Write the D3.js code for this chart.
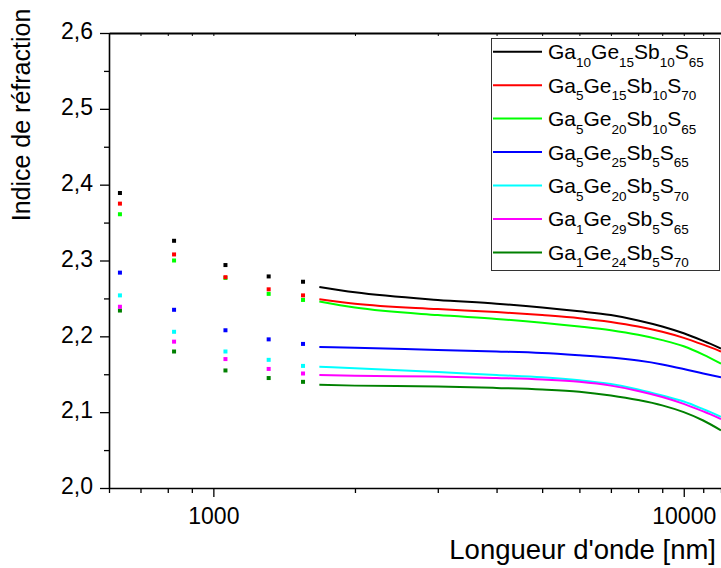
<!DOCTYPE html>
<html>
<head>
<meta charset="utf-8">
<script src="https://cdn.jsdelivr.net/npm/d3@7"></script>
<style>
  html, body { margin: 0; padding: 0; background: #fff; }
  svg { display: block; font-family: "Liberation Sans", Arial, sans-serif; }
</style>
</head>
<body>
<svg id="chart" width="721" height="568"></svg>
<script>
// ---------- data ----------
const seriesNames = [
  [["Ga","10"],["Ge","15"],["Sb","10"],["S","65"]],
  [["Ga","5"],["Ge","15"],["Sb","10"],["S","70"]],
  [["Ga","5"],["Ge","20"],["Sb","10"],["S","65"]],
  [["Ga","5"],["Ge","25"],["Sb","5"],["S","65"]],
  [["Ga","5"],["Ge","20"],["Sb","5"],["S","70"]],
  [["Ga","1"],["Ge","29"],["Sb","5"],["S","65"]],
  [["Ga","1"],["Ge","24"],["Sb","5"],["S","70"]]
];
const seriesColors = ["#000000","#ff0000","#00ff00","#0000ff","#00ffff","#ff00ff","#008000"];

// measured points (prism coupler wavelengths, nm)
const pointWavelengths = [633, 825, 1061, 1311, 1551];
const pointsBlack   = [2.389, 2.326, 2.294, 2.279, 2.272];
const pointsRed     = [2.375, 2.308, 2.278, 2.262, 2.254];
const pointsGreen   = [2.361, 2.300, 2.277, 2.256, 2.248];
const pointsBlue    = [2.284, 2.235, 2.208, 2.196, 2.190];
const pointsCyan    = [2.254, 2.206, 2.180, 2.169, 2.161];
const pointsMagenta = [2.239, 2.193, 2.170, 2.157, 2.151];
const pointsDkGreen = [2.234, 2.180, 2.155, 2.145, 2.140];

// fitted curves
const curveWavelengths = [1680, 2000, 3000, 4000, 5000, 6000, 7000, 8000, 9000, 10000, 11000, 12000];
const curveBlack   = [2.265, 2.258, 2.248, 2.243, 2.238, 2.233, 2.228, 2.221, 2.213, 2.204, 2.194, 2.184];
const curveRed     = [2.249, 2.243, 2.236, 2.232, 2.228, 2.224, 2.219, 2.213, 2.206, 2.198, 2.189, 2.180];
const curveGreen   = [2.246, 2.238, 2.228, 2.223, 2.218, 2.213, 2.208, 2.202, 2.195, 2.187, 2.176, 2.164];
const curveBlue    = [2.186, 2.185, 2.182, 2.180, 2.178, 2.175, 2.172, 2.168, 2.163, 2.157, 2.151, 2.146];
const curveCyan    = [2.160, 2.158, 2.153, 2.149, 2.146, 2.142, 2.137, 2.130, 2.122, 2.114, 2.104, 2.094];
const curveMagenta = [2.149, 2.148, 2.147, 2.145, 2.143, 2.140, 2.135, 2.128, 2.120, 2.111, 2.101, 2.091];
const curveDkGreen = [2.136, 2.135, 2.134, 2.132, 2.130, 2.127, 2.122, 2.116, 2.109, 2.100, 2.089, 2.076];

const yTicks = [2.0, 2.1, 2.2, 2.3, 2.4, 2.5, 2.6];
const yMinorTicks = [2.05, 2.15, 2.25, 2.35, 2.45, 2.55];
const xTicks = [1000, 10000];
const xMinorTicks = [600, 700, 800, 900, 2000, 3000, 4000, 5000, 6000, 7000, 8000, 9000, 11000, 12000];
const xDomain = [600, 12000];
const yDomain = [2.0, 2.6];
const xTitle = "Longueur d'onde [nm]";
const yTitle = "Indice de réfraction";

const allPoints = [pointsBlack, pointsRed, pointsGreen, pointsBlue, pointsCyan, pointsMagenta, pointsDkGreen];
const allCurves = [curveBlack, curveRed, curveGreen, curveBlue, curveCyan, curveMagenta, curveDkGreen];

// ---------- layout ----------
const L = 109, R = 721, T = 33, B = 488;
const svg = d3.select("#chart");
const x = d3.scaleLog().domain(xDomain).range([L, R]);
const y = d3.scaleLinear().domain(yDomain).range([B, T]);

const fmt = d => d3.format(".1f")(d).replace(".", ",");

// minor ticks
svg.append("g").attr("transform", `translate(0,${B})`)
  .call(d3.axisBottom(x).tickValues(xMinorTicks).tickSize(5).tickFormat(""))
  .call(g => g.select(".domain").remove())
  .call(g => g.selectAll("line").attr("stroke", "#000").attr("stroke-width", 1.3));
svg.append("g").attr("transform", `translate(${L},0)`)
  .call(d3.axisLeft(y).tickValues(yMinorTicks).tickSize(5).tickFormat(""))
  .call(g => g.select(".domain").remove())
  .call(g => g.selectAll("line").attr("stroke", "#000").attr("stroke-width", 1.3));

// top axis (mirror, small inward ticks)
svg.append("g").attr("transform", `translate(0,${T})`)
  .call(d3.axisBottom(x).tickValues(xTicks.concat(xMinorTicks)).tickSize(3).tickSizeOuter(0).tickFormat(""))
  .call(g => g.select(".domain").attr("stroke", "#000").attr("stroke-width", 1.8))
  .call(g => g.selectAll("line").attr("stroke", "#000").attr("stroke-width", 1));

// bottom axis
svg.append("g").attr("transform", `translate(0,${B})`)
  .call(d3.axisBottom(x).tickValues(xTicks).tickSize(9).tickSizeOuter(0).tickPadding(5).tickFormat(d3.format("d")))
  .call(g => g.select(".domain").attr("stroke", "#000").attr("stroke-width", 1.6))
  .call(g => g.selectAll("line").attr("stroke", "#000").attr("stroke-width", 1.3))
  .call(g => g.selectAll("text").attr("font-size", 23).attr("fill", "#000")
    .attr("font-family", "Liberation Sans, Arial, sans-serif").attr("dy", "0.95em"));

// left axis
svg.append("g").attr("transform", `translate(${L},0)`)
  .call(d3.axisLeft(y).tickValues(yTicks).tickSize(9).tickSizeOuter(0).tickPadding(7).tickFormat(fmt))
  .call(g => g.select(".domain").attr("stroke", "#000").attr("stroke-width", 1.6))
  .call(g => g.selectAll("line").attr("stroke", "#000").attr("stroke-width", 1.3))
  .call(g => g.selectAll("text").attr("font-size", 23).attr("fill", "#000")
    .attr("font-family", "Liberation Sans, Arial, sans-serif").attr("dy", "0.25em"));

// titles
svg.append("text").attr("x", 716).attr("y", 559).attr("text-anchor", "end")
  .attr("font-size", 27.5).attr("fill", "#000").text(xTitle);
svg.append("text").attr("transform", "translate(30,115) rotate(-90)").attr("text-anchor", "middle")
  .attr("font-size", 25).attr("fill", "#000").text(yTitle);

// curves
const line = d3.line().x(d => x(d[0])).y(d => y(d[1])).curve(d3.curveMonotoneX);
const curveG = svg.append("g");
allCurves.forEach((vals, i) => {
  curveG.append("path")
    .datum(curveWavelengths.map((w, j) => [w, vals[j]]))
    .attr("d", line).attr("fill", "none")
    .attr("stroke", seriesColors[i]).attr("stroke-width", 2);
});

// points (drawn last series first)
const ptG = svg.append("g");
for (let i = allPoints.length - 1; i >= 0; i--) {
  ptG.selectAll(null).data(pointWavelengths.map((w, j) => [w, allPoints[i][j]]))
    .enter().append("rect")
    .attr("x", d => x(d[0]) - 2).attr("y", d => y(d[1]) - 2)
    .attr("width", 4).attr("height", 4).attr("fill", seriesColors[i]);
}

// legend
const lg = svg.append("g");
lg.append("rect").attr("x", 491.5).attr("y", 38.5).attr("width", 228).attr("height", 232)
  .attr("fill", "#fff").attr("stroke", "#333").attr("stroke-width", 1);
seriesNames.forEach((parts, i) => {
  const cy = 51.7 + i * 33.45;
  lg.append("line").attr("x1", 493).attr("x2", 542).attr("y1", cy).attr("y2", cy)
    .attr("stroke", seriesColors[i]).attr("stroke-width", 2);
  const t = lg.append("text").attr("x", 548).attr("y", cy + 7.5).attr("fill", "#000");
  parts.forEach(([el, sub], k) => {
    t.append("tspan").attr("font-size", 21).attr("dy", k === 0 ? 0 : -7.5).text(el);
    t.append("tspan").attr("font-size", 13.5).attr("dy", 7.5).text(sub);
  });
});
</script>
</body>
</html>
